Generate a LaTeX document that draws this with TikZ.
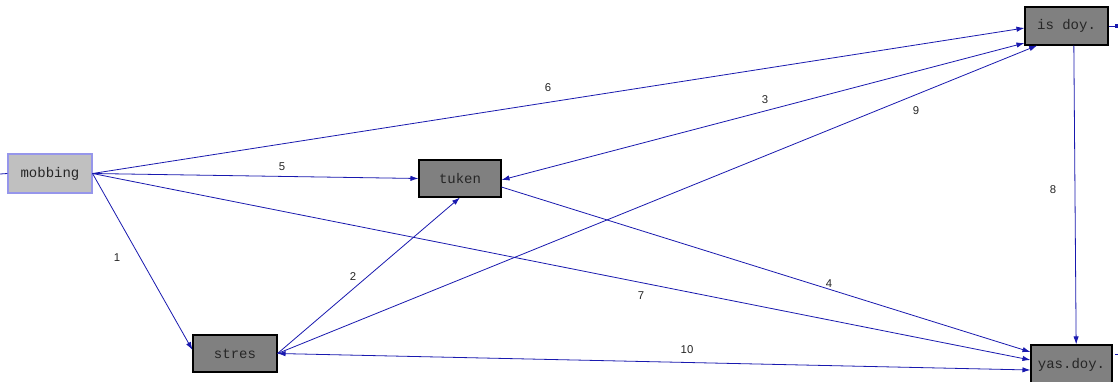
\documentclass[tikz,border=0pt]{standalone}
\usepackage{fontspec}
\setmainfont{Liberation Sans}
\newfontfamily\boxfont{Liberation Mono}
\usetikzlibrary{arrows.meta}
\definecolor{linkblue}{RGB}{25,25,175}
\definecolor{lightbox}{RGB}{192,192,192}
\definecolor{darkbox}{RGB}{128,128,128}
\definecolor{lightborder}{RGB}{150,150,235}
\tikzset{
  var/.style={draw=black, fill=darkbox, line width=0.8pt, inner sep=0pt,
    font=\boxfont\fontsize{10.5}{12}\selectfont, text=black!85},
  exo/.style={var, draw=lightborder, fill=lightbox},
  conn/.style={draw=linkblue, line width=0.6pt, -{Latex[length=6pt,width=4pt]}},
  bicon/.style={draw=linkblue, line width=0.6pt, {Latex[length=6pt,width=4pt]}-{Latex[length=6pt,width=4pt]}},
  stub/.style={draw=linkblue, line width=0.6pt},
  lbl/.style={font=\fontsize{8.5}{10}\selectfont, text=black!85, inner sep=1pt}
}
\begin{document}
\begin{tikzpicture}[x=0.75pt,y=-0.75pt]
\useasboundingbox[fill=white] (0,0) rectangle (1118,382);
% nodes
\node[exo, minimum width=63pt, minimum height=29.25pt] (mob) at (50,173.5) {mobbing};
\node[var, minimum width=61.5pt, minimum height=27.75pt] (tuk) at (460,178.5) {tuken};
\node[var, minimum width=63pt, minimum height=27.75pt] (str) at (235,353.5) {stres};
\node[var, minimum width=62.25pt, minimum height=28.5pt] (isd) at (1066.5,26) {is doy.};
\node[var, minimum width=60.75pt, minimum height=30pt] (yas) at (1071.5,365) {yas.doy.};
% stubs
\coordinate (s1) at (0,174);
\coordinate (s2) at (1118,26);
\coordinate (s3) at (1118,354);
\draw[stub] (s1) -- (mob.west);
\draw[stub, -{Square[length=2.5pt,width=2.5pt]}] (isd.east) -- (s2);
\draw[stub] ([xshift=2pt]yas.east |- s3) -- (s3);
% connectors
\draw[conn] (mob.east) -- ([yshift=2.6pt]str.west);
\draw[conn] (mob.east) -- (tuk.west);
\draw[conn] (mob.east) -- ([yshift=-1.5pt]isd.west);
\draw[conn] (mob.east) -- ([yshift=3.75pt]yas.west);
\draw[bicon] ([yshift=-1.1pt]tuk.east) -- ([yshift=-12.75pt]isd.west);
\draw[conn] (str.east) -- (tuk.south);
\draw[conn] (str.east) -- ([xshift=-22pt]isd.south);
\draw[conn] ([yshift=-6.4pt]tuk.east) -- ([yshift=9.75pt]yas.west);
\draw[bicon] (str.east) -- ([yshift=-3.75pt]yas.west);
\draw[conn] ([xshift=5.5pt]isd.south) -- ([xshift=3.5pt]yas.north);
% labels
\node[lbl] (l1) at (117,258) {1};
\node[lbl] (l2) at (353,277) {2};
\node[lbl] (l3) at (765,100) {3};
\node[lbl] (l4) at (829,284) {4};
\node[lbl] (l5) at (282,167) {5};
\node[lbl] (l6) at (548,88) {6};
\node[lbl] (l7) at (641,296) {7};
\node[lbl] (l8) at (1053,190) {8};
\node[lbl] (l9) at (916,111) {9};
\node[lbl] (l10) at (687,350) {10};
\end{tikzpicture}
\end{document}
